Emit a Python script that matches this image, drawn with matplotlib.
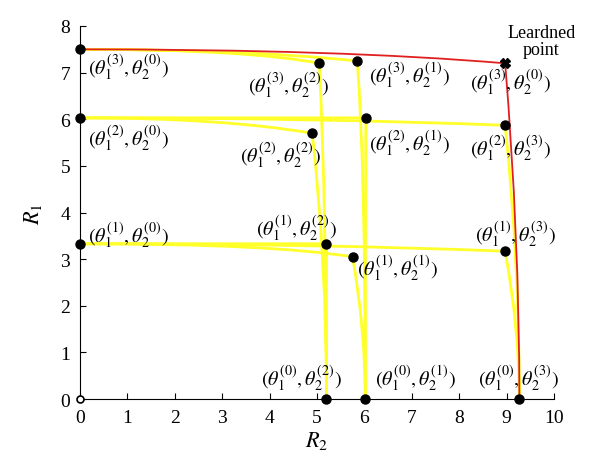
import matplotlib
matplotlib.use("Agg")
import matplotlib.pyplot as plt
from matplotlib.path import Path
from matplotlib.patches import PathPatch

plt.rcParams["font.family"] = ["Liberation Serif", "DejaVu Serif"]
plt.rcParams["mathtext.fontset"] = "stix"

# axis intercepts
r1_levels = {1: 3.33, 2: 6.03, 3: 7.5}
r2_levels = {1: 6.02, 2: 5.2, 3: 9.27}

# corner points (theta1 index, theta2 index, R2, R1)
corners = [
    (3, 2, 5.05, 7.2),
    (3, 1, 5.85, 7.25),
    (2, 2, 4.9, 5.7),
    (2, 1, 6.03, 6.03),
    (2, 3, 8.97, 5.87),
    (1, 2, 5.2, 3.33),
    (1, 1, 5.75, 3.05),
    (1, 3, 8.97, 3.17),
]
learned = (8.97, 7.2)

# bend of each boundary: control x of the top arc, control y of the side arc
top_ctrl = [3.5, 3.5, 3.0, 3.0, 5.0, 3.0, 4.0, 5.0]
side_ctrl = [4.0, 5.0, 3.0, 3.0, 3.0, 1.5, 1.5, 1.5]
red_top_ctrl = 5.5
red_side_ctrl = 3.5

labels = [
    (0.17, 7.15, 3, 0, "left"),
    (0.17, 5.62, 2, 0, "left"),
    (0.17, 3.54, 1, 0, "left"),
    (4.39, 6.76, 3, 2, "center"),
    (6.96, 6.97, 3, 1, "center"),
    (9.09, 6.82, 3, 0, "center"),
    (4.24, 5.26, 2, 2, "center"),
    (6.96, 5.51, 2, 1, "center"),
    (9.09, 5.41, 2, 3, "center"),
    (4.56, 3.69, 1, 2, "center"),
    (6.69, 2.83, 1, 1, "center"),
    (9.18, 3.56, 1, 3, "center"),
    (4.68, 0.47, 0, 2, "center"),
    (7.07, 0.47, 0, 1, "center"),
    (9.26, 0.47, 0, 3, "center"),
]


def bezier(ax, p0, c, p1, color, lw, z):
    path = Path([p0, c, p1], [Path.MOVETO, Path.CURVE3, Path.CURVE3])
    ax.add_patch(PathPatch(path, fill=False, edgecolor=color, lw=lw, zorder=z))


fig = plt.figure(figsize=(6, 4.77), dpi=100)
ax = fig.add_axes([0.1333, 0.1614, 0.79, 0.782])

yellow = "#ffff2a"
for (i, j, x, y), tc, sc in zip(corners, top_ctrl, side_ctrl):
    y0 = r1_levels[i]
    x0 = r2_levels[j]
    bezier(ax, (0, y0), (tc, y0), (x, y), yellow, 2.0, 2)
    bezier(ax, (x, y), (x0, sc), (x0, 0), yellow, 2.0, 2)

# learned boundary
bezier(ax, (0, r1_levels[3]), (red_top_ctrl, r1_levels[3]), learned, "#e02020", 1.3, 3)
bezier(ax, learned, (r2_levels[3], red_side_ctrl), (r2_levels[3], 0), "#e02020", 1.3, 3)

ax.plot([c[2] for c in corners], [c[3] for c in corners], "o", color="black",
        ms=6.5, zorder=5, clip_on=False)
ax.plot([0, 0, 0], list(r1_levels.values()), "o", color="black", ms=6.5, zorder=5, clip_on=False)
ax.plot(list(r2_levels.values()), [0, 0, 0], "o", color="black", ms=6.5, zorder=5, clip_on=False)
ax.plot([0], [0], "o", mfc="white", mec="black", ms=5, mew=1.2, zorder=5, clip_on=False)
ax.plot([learned[0]], [learned[1]], "X", color="black", ms=7, zorder=6, clip_on=False)

for x, y, i, j, ha in labels:
    ax.text(x, y, r"$(\theta_1^{(%d)},\theta_2^{(%d)})$" % (i, j), fontsize=14.5,
            ha=ha, va="center", zorder=7)

ax.text(9.73, 7.68, "Leardned\npoint", fontsize=13, ha="center", va="center",
        linespacing=1.0)

ax.set_xlim(0, 10)
ax.set_ylim(0, 8)
ax.set_xticks(range(0, 11))
ax.set_yticks(range(0, 9))
ax.spines["top"].set_visible(False)
ax.spines["right"].set_visible(False)
ax.tick_params(direction="in", length=4, labelsize=14, pad=7)
ax.set_xlabel("$R_2$", fontsize=16, labelpad=2)
ax.set_ylabel("$R_1$", fontsize=16, labelpad=12)

fig.savefig("out.png", dpi=100)
